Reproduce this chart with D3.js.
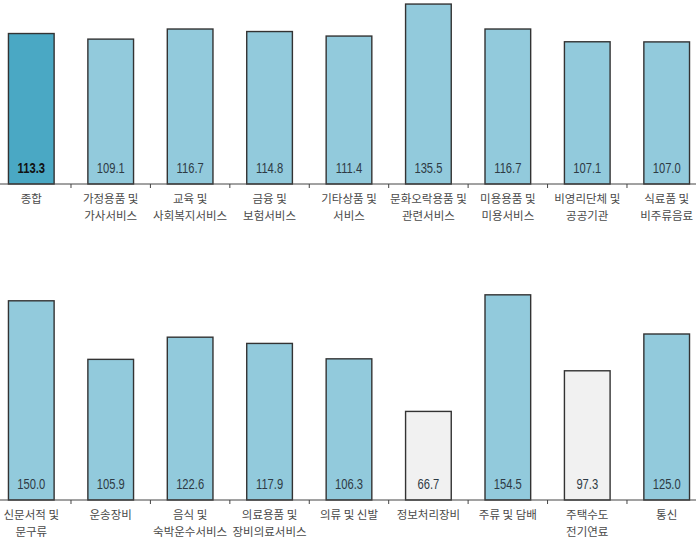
<!DOCTYPE html>
<html><head><meta charset="utf-8">
<script src="https://cdn.jsdelivr.net/npm/d3@7"></script>
<style>html,body{margin:0;padding:0;background:#fff;}svg{display:block;}</style>
</head><body>
<svg id="c" width="696" height="540"></svg>
<script>
const topCategories = [["종합"],["가정용품 및","가사서비스"],["교육 및","사회복지서비스"],["금융 및","보험서비스"],["기타상품 및","서비스"],["문화오락용품 및","관련서비스"],["미용용품 및","미용서비스"],["비영리단체 및","공공기관"],["식료품 및","비주류음료"]];
const topValues = [113.3,109.1,116.7,114.8,111.4,135.5,116.7,107.1,107.0];
const topKinds = ["total","up","up","up","up","up","up","up","up"];
const bottomCategories = [["신문서적 및","문구류"],["운송장비"],["음식 및","숙박운수서비스"],["의료용품 및","장비의료서비스"],["의류 및 신발"],["정보처리장비"],["주류 및 담배"],["주택수도","전기연료"],["통신"]];
const bottomValues = [150.0,105.9,122.6,117.9,106.3,66.7,154.5,97.3,125.0];
const bottomKinds = ["up","up","up","up","up","down","up","down","up"];

const fills = {total:"#4aa8c4", up:"#92cadc", down:"#f1f1f1"};
const svg = d3.select("#c");

function panel(cats, vals, kinds, base) {
  const names = cats.map(c => c.join(" "));
  const x = d3.scaleBand().domain(names).range([-8.43, 706.4]).padding(0);
  const y = d3.scaleLinear().domain([0, 140]).range([base, base - 140 * 1.328]);
  const g = svg.append("g");
  const bw = x.bandwidth() * 0.575;
  g.selectAll("rect").data(vals).enter().append("rect")
    .attr("x", (d,i) => x(names[i]) + x.bandwidth()/2 - bw/2)
    .attr("y", d => y(d))
    .attr("width", bw)
    .attr("height", d => y(0) - y(d))
    .attr("fill", (d,i) => fills[kinds[i]])
    .attr("stroke", "#333")
    .attr("stroke-width", 1.4);
  g.selectAll("text.v").data(vals).enter().append("text")
    .attr("class","v")
    .attr("transform", (d,i) => `translate(${x(names[i]) + x.bandwidth()/2},${y(0) - 11}) scale(0.8,1)`)
    .attr("text-anchor","middle")
    .attr("font-family","'Liberation Sans','Arial',sans-serif")
    .attr("font-size", 14)
    .attr("font-weight", (d,i) => kinds[i]==="total" ? "bold" : "normal")
    .attr("fill", (d,i) => kinds[i]==="total" ? "#111" : "#2e3a44")
    .text(d => d.toFixed(1));
  g.append("line").attr("x1",0).attr("x2",696).attr("y1",y(0)).attr("y2",y(0))
    .attr("stroke","#444").attr("stroke-width",1);
  g.selectAll("line.t").data(names.slice(1)).enter().append("line")
    .attr("class","t")
    .attr("x1", d => x(d)).attr("x2", d => x(d))
    .attr("y1", y(0)).attr("y2", y(0) + 4)
    .attr("stroke","#444").attr("stroke-width",1);
  const lab = g.selectAll("text.c").data(cats).enter().append("text")
    .attr("class","c")
    .attr("text-anchor","middle")
    .attr("font-family","'Noto Sans CJK KR','Noto Sans',sans-serif")
    .attr("font-size", 11.5)
    .attr("fill","#4a4a4a");
  lab.each(function(c,i){
    const t = d3.select(this);
    c.forEach((line,j) => {
      t.append("tspan")
        .attr("x", x(names[i]) + x.bandwidth()/2)
        .attr("y", y(0) + 19 + j*17)
        .text(line);
    });
  });
}

panel(topCategories, topValues, topKinds, 184);
panel(bottomCategories, bottomValues, bottomKinds, 500);
</script>
</body></html>
